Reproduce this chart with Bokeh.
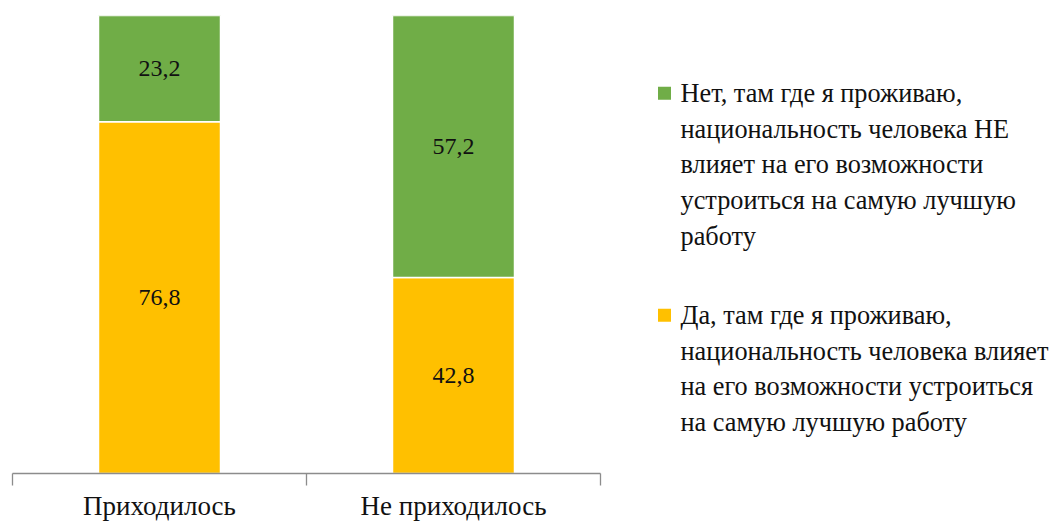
import numpy as np
from bokeh.plotting import figure
from bokeh.models import ColumnDataSource, Range1d, LinearAxis, FixedTicker
from bokeh.layouts import row
from bokeh.embed import file_html
from bokeh.resources import INLINE
from bokeh.core.properties import value

categories = ["Приходилось", "Не приходилось"]
yes_values = [76.8, 42.8]
no_values = [23.2, 57.2]
yes_labels = ["76,8", "42,8"]
no_labels = ["23,2", "57,2"]

legend_no_lines = ["Нет, там где я проживаю,", "национальность человека НЕ",
                   "влияет на его возможности", "устроиться на самую лучшую", "работу"]
legend_yes_lines = ["Да, там где я проживаю,", "национальность человека влияет",
                    "на его возможности устроиться", "на самую лучшую работу"]

FONT = "Liberation Serif"
GREEN = "#70AD47"
YELLOW = "#FFC000"
AXIS = "#8C8C8C"
TEXT = "#111111"

n = len(categories)
pos = [i + 0.5 for i in range(n)]   # slot centres on a 0..n axis
src = ColumnDataSource(dict(x=pos, cat=categories, yes=yes_values, no=no_values))

p = figure(width=608, height=523, x_range=Range1d(0, n), y_range=Range1d(0, 100),
           output_backend="svg", toolbar_location=None, x_axis_type=None, y_axis_type=None,
           min_border_left=12, min_border_right=8, min_border_top=15, min_border_bottom=48)
p.outline_line_color = None

p.vbar_stack(["yes", "no"], x="x", width=0.415, color=[YELLOW, GREEN],
             line_color="white", line_width=1.5, source=src)

yes_arr = np.array(yes_values)
no_arr = np.array(no_values)
p.text(x=pos, y=list(yes_arr / 2), text=yes_labels, text_align="center",
       text_baseline="middle", text_font=value(FONT), text_font_size="24px", text_color=TEXT)
p.text(x=pos, y=list(yes_arr + no_arr / 2), text=no_labels, text_align="center",
       text_baseline="middle", text_font=value(FONT), text_font_size="24px", text_color=TEXT)

ax = LinearAxis(ticker=FixedTicker(ticks=pos, minor_ticks=list(range(n + 1))),
                major_label_overrides={c: lab for c, lab in zip(pos, categories)})
ax.axis_line_color = AXIS
ax.axis_line_width = 1.3
ax.major_tick_out = 0
ax.major_tick_in = 0
ax.minor_tick_out = 12
ax.minor_tick_in = 0
ax.minor_tick_line_color = AXIS
ax.minor_tick_line_width = 1.3
ax.major_label_text_font = FONT
ax.major_label_text_font_size = "27px"
ax.major_label_text_color = TEXT
ax.major_label_standoff = 5
p.add_layout(ax, "below")

# legend panel (its frame is aligned with the chart frame in the row: page y 15..475)
lg = figure(width=448, height=523, x_range=Range1d(0, 448), y_range=Range1d(475, 15),
            output_backend="svg", toolbar_location=None, x_axis_type=None, y_axis_type=None,
            min_border=0)
lg.outline_line_color = None

spacing = 36
no_y0 = 93
yes_y0 = 316
lg.scatter(x=[56, 56], y=[no_y0, yes_y0], marker="square", size=13, color=[GREEN, YELLOW], line_color=None)
lg.text(x=[72] * len(legend_no_lines), y=[no_y0 + spacing * i for i in range(len(legend_no_lines))],
        text=legend_no_lines, text_baseline="middle", text_align="left",
        text_font=value(FONT), text_font_size="26.3px", text_color=TEXT)
lg.text(x=[72] * len(legend_yes_lines), y=[yes_y0 + spacing * i for i in range(len(legend_yes_lines))],
        text=legend_yes_lines, text_baseline="middle", text_align="left",
        text_font=value(FONT), text_font_size="26.3px", text_color=TEXT)

layout = row(p, lg)
open("out.html", "w").write(file_html(layout, INLINE))
